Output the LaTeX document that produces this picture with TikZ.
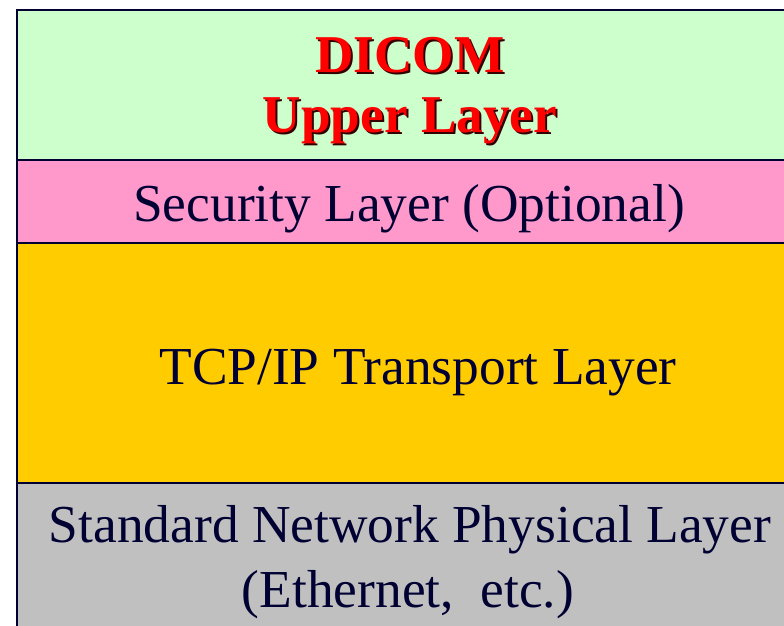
\documentclass[tikz,border=0pt]{standalone}
\usepackage{fontspec}
\setmainfont{Liberation Serif}
\definecolor{lgreen}{HTML}{CCFFCC}
\definecolor{lpink}{HTML}{FF99CC}
\definecolor{lorange}{HTML}{FFCC00}
\definecolor{lgray}{HTML}{C0C0C0}
\definecolor{navy}{HTML}{000033}
\definecolor{dred}{HTML}{FF0000}
\definecolor{shadowc}{HTML}{330000}
\newcommand{\shadowtext}[1]{{\color{shadowc}\rlap{\hspace{2pt}\raisebox{-2pt}{#1}}}#1}
\tikzset{
  layer/.style={draw=navy, line width=2pt},
  txt/.style={anchor=base, inner sep=0pt, text=navy, font=\fontsize{53.4}{60}\selectfont},
  head/.style={anchor=base, inner sep=0pt, text=dred, font=\fontsize{53.2}{60}\selectfont\bfseries},
}
\begin{document}
\begin{tikzpicture}[x=1pt,y=1pt]
\useasboundingbox (0,0) rectangle (784,625);
\clip (0,0) rectangle (784,625);
\fill[white] (0,0) rectangle (784,625);
\filldraw[layer, fill=lgreen] (17,615) rectangle (803,465);
\filldraw[layer, fill=lpink] (17,465) rectangle (803,382);
\filldraw[layer, fill=lorange] (17,382) rectangle (803,142);
\filldraw[layer, fill=lgray] (17,142) rectangle (803,-20);
\node[head] (h1) at (410,552) {\shadowtext{DICOM}};
\node[head] (h2) at (410,492) {\shadowtext{Upper Layer}};
\node[txt] (sec) at (409,403) {Security Layer (Optional)};
\node[txt] (tcp) at (418,241) {TCP/IP Transport Layer};
\node[txt] (std) at (410,83) {Standard Network Physical Layer};
\node[txt] (eth) at (408,18) {(Ethernet,\ \ etc.)};
\end{tikzpicture}
\end{document}
